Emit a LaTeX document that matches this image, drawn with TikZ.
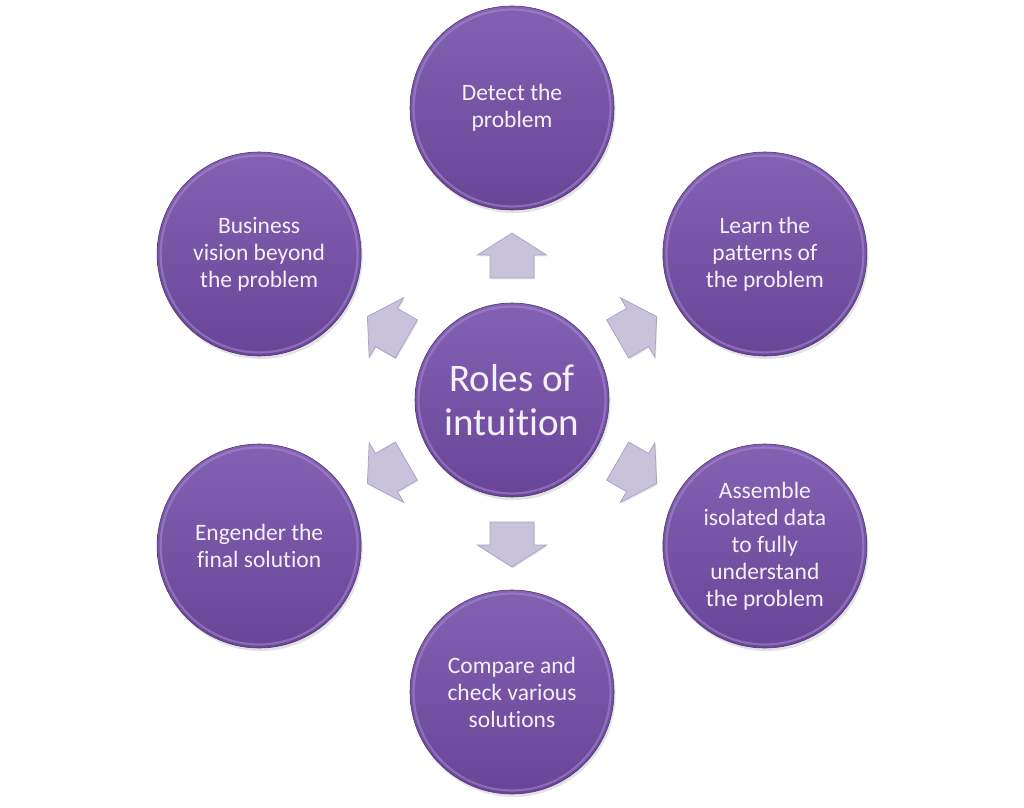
\documentclass[tikz,border=0pt]{standalone}
\usepackage{fontspec}
\setmainfont[Ligatures=NoCommon]{Carlito}
\usetikzlibrary{shadows,calc}
\definecolor{ptop}{HTML}{8462B3}
\definecolor{pbot}{HTML}{684597}
\definecolor{prim}{HTML}{A88CD2}
\definecolor{afill}{HTML}{C8C2DB}
\definecolor{aline}{HTML}{A9A0C2}
\definecolor{txt}{HTML}{F4F0FA}
\tikzset{
  bubble/.style={circle, inner sep=0pt, minimum size=204pt, top color=ptop, bottom color=pbot,
    draw=pbot!80!black, line width=0.6pt,
    drop shadow={opacity=0.22, shadow xshift=1.5pt, shadow yshift=-3pt},
    text=txt, align=center, font=\fontsize{23.5}{27}\selectfont},
  hub/.style={bubble, minimum size=194pt, font=\fontsize{39}{44}\selectfont},
  rimline/.style={draw=prim, line width=2.2pt, opacity=0.55},
  blockarrow/.style={fill=afill, draw=aline, line width=0.7pt, line join=miter,
    drop shadow={opacity=0.18, shadow xshift=1pt, shadow yshift=-1.5pt}}
}
\begin{document}
\begin{tikzpicture}[x=1pt,y=1pt]
\useasboundingbox (0,0) rectangle (1024,807);
\fill[white] (0,0) rectangle (1024,807);
\coordinate (c) at (512,407);
% arrows
\foreach \a in {90,30,-30,-90,-150,150}{
  \begin{scope}[shift={(c)}, rotate=\a]
    \path[blockarrow] (122,-22) -- (145,-22) -- (145,-34.5) -- (167,0) -- (145,34.5) -- (145,22) -- (122,22) -- cycle;
  \end{scope}
}
\node[hub] (hub) at (c) {Roles of\\intuition};
\node[bubble] (n1) at ($(c)+(90:292)$) {Detect the\\problem};
\node[bubble] (n2) at ($(c)+(30:292)$) {Learn the\\patterns of\\the problem};
\node[bubble] (n3) at ($(c)+(-30:292)$) {Assemble\\isolated data\\to fully\\understand\\the problem};
\node[bubble] (n4) at ($(c)+(-90:292)$) {Compare and\\check various\\solutions};
\node[bubble] (n5) at ($(c)+(-150:292)$) {Engender the\\final solution};
\node[bubble] (n6) at ($(c)+(150:292)$) {Business\\vision beyond\\the problem};
\foreach \n in {n1,n2,n3,n4,n5,n6}{
  \draw[rimline] (\n.center) circle (98.5);
}
\draw[rimline] (hub.center) circle (93.5);
\end{tikzpicture}
\end{document}
